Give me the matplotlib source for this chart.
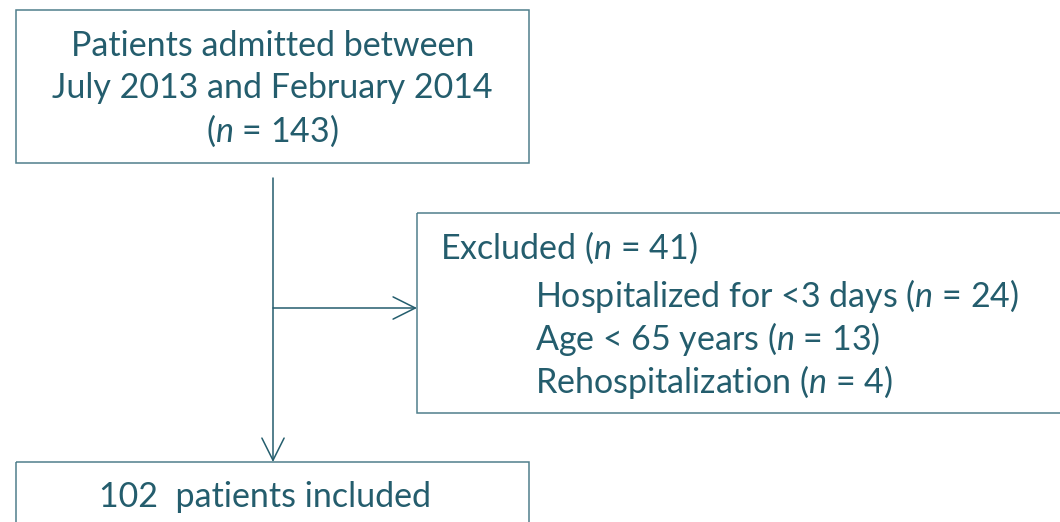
import matplotlib.pyplot as plt
from matplotlib.patches import Rectangle

plt.rcParams['font.family'] = ['Lato', 'DejaVu Sans']
plt.rcParams['mathtext.fontset'] = 'custom'
plt.rcParams['mathtext.rm'] = 'Lato'
plt.rcParams['mathtext.it'] = 'Lato:italic'

# Contenido del diagrama
titulo_inicio = ["Patients admitted between", "July 2013 and February 2014", "($n$ = 143)"]
total_excluidos = 41
motivos = ["Hospitalized for <3 days", "Age < 65 years", "Rehospitalization"]
n_motivos = [24, 13, 4]
incluidos = 102

texto_color = '#245D6D'
borde_color = '#4F7F8C'

fig = plt.figure(figsize=(10.6, 5.22), dpi=100)
ax = fig.add_axes([0, 0, 1, 1])
ax.set_xlim(0, 1060)
ax.set_ylim(522, 0)
ax.axis('off')

# Cajas
for x0, y0, w, h in [(16, 10, 513, 153), (417, 213, 660, 200), (16, 462, 513, 80)]:
    ax.add_patch(Rectangle((x0, y0), w, h, fill=False, edgecolor=borde_color, linewidth=1.1))

fs = 24.5
for i, linea in enumerate(titulo_inicio):
    ax.text(272.5, 46 + i * 42.5, linea, ha='center', va='center', fontsize=fs, color=texto_color)

ax.text(440, 248, f"Excluded ($n$ = {total_excluidos})", ha='left', va='center', fontsize=fs, color=texto_color)
for i, (m, n) in enumerate(zip(motivos, n_motivos)):
    ax.text(535, 296 + i * 43, f"{m} ($n$ = {n})", ha='left', va='center', fontsize=fs, color=texto_color)

ax.text(265, 497, f"{incluidos}  patients included", ha='center', va='center', fontsize=fs, color=texto_color)

# Flechas
flecha = dict(arrowstyle='->,head_length=1.6,head_width=0.8', color=texto_color, lw=1.1, shrinkA=0, shrinkB=0)
ax.annotate('', xy=(273, 462), xytext=(273, 178), arrowprops=flecha)
ax.annotate('', xy=(417, 308), xytext=(273, 308), arrowprops=flecha)

fig.savefig('out.png', dpi=100)
